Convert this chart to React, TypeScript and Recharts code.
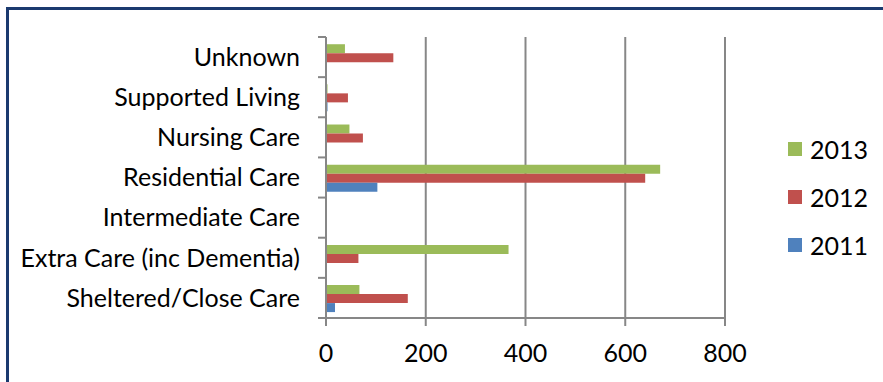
import { Bar, BarChart, CartesianGrid, XAxis, YAxis } from "recharts";

const categories = [
  "Unknown",
  "Supported Living",
  "Nursing Care",
  "Residential Care",
  "Intermediate Care",
  "Extra Care (inc Dementia)",
  "Sheltered/Close Care",
];
const y2013 = [38, 3, 47, 670, 0, 366, 67];
const y2012 = [135, 44, 74, 640, 0, 65, 164];
const y2011 = [0, 3, 0, 103, 0, 0, 18];
const xTicks = [0, 200, 400, 600, 800];

const series = [
  { key: "2013", color: "#9BBB59" },
  { key: "2012", color: "#C0504D" },
  { key: "2011", color: "#4F81BD" },
];

const data = categories.map((name, i) => ({
  name,
  "2013": y2013[i],
  "2012": y2012[i],
  "2011": y2011[i],
}));

const FONT = "Lato, 'Open Sans', sans-serif";
const GRID = "#878787";
const FRAME = "#1B3A6F";
const MARGIN = 26;

function CategoryTick(props: any) {
  const { x, y, payload, index, visibleTicksCount } = props;
  const half = payload?.offset ?? 20;
  const ax = x + MARGIN;
  const isLast = index === visibleTicksCount - 1;
  return (
    <g>
      <line x1={ax - 8} x2={ax} y1={y - half} y2={y - half} stroke={GRID} strokeWidth={2} />
      {isLast && <line x1={ax - 8} x2={ax} y1={y + half} y2={y + half} stroke={GRID} strokeWidth={2} />}
      <text x={x} y={y} dy="0.35em" textAnchor="end" fill="#000" fontSize={25} fontFamily={FONT}>
        {payload.value}
      </text>
    </g>
  );
}

// legend sits to the right of the plot, like the spreadsheet original
function LegendBox() {
  return (
    <div style={{ position: "absolute", left: 788, top: 125, fontFamily: FONT, fontSize: 25, color: "#000" }}>
      {series.map((s) => (
        <div key={s.key} style={{ display: "flex", alignItems: "center", height: 48 }}>
          <span style={{ width: 14, height: 14, background: s.color, marginRight: 8 }} />
          {s.key}
        </div>
      ))}
    </div>
  );
}

export default function App() {
  return (
    <div style={{ position: "relative", width: 883, height: 382, overflow: "hidden", background: "#fff" }}>
      <style>{`html,body{margin:0;padding:0;overflow:hidden;background:#fff}`}</style>
      <div style={{ position: "absolute", left: 6, top: 7, width: 877, height: 2.5, background: FRAME }} />
      <div style={{ position: "absolute", left: 6, top: 7, width: 2.5, height: 375, background: FRAME }} />
      <div style={{ position: "absolute", left: 0, top: 0 }}>
        <BarChart
          width={883}
          height={382}
          data={data}
          layout="vertical"
          margin={{ top: 37, right: 158, left: 0, bottom: 24 }}
          barCategoryGap="18%"
          barGap={0}
        >
          <CartesianGrid horizontal={false} stroke={GRID} strokeWidth={2} />
          <XAxis
            type="number"
            domain={[0, 800]}
            ticks={xTicks}
            stroke={GRID}
            strokeWidth={2}
            tickSize={8}
            tickMargin={18}
            height={40}
            tick={{ fill: "#000", fontSize: 25, fontFamily: FONT }}
          />
          <YAxis
            type="category"
            dataKey="name"
            width={326}
            stroke={GRID}
            strokeWidth={2}
            tickLine={false}
            tickSize={0}
            tickMargin={MARGIN}
            interval={0}
            tick={<CategoryTick />}
          />
          {series.map((s) => (
            <Bar key={s.key} dataKey={s.key} fill={s.color} isAnimationActive={false} />
          ))}
        </BarChart>
      </div>
      <LegendBox />
    </div>
  );
}
